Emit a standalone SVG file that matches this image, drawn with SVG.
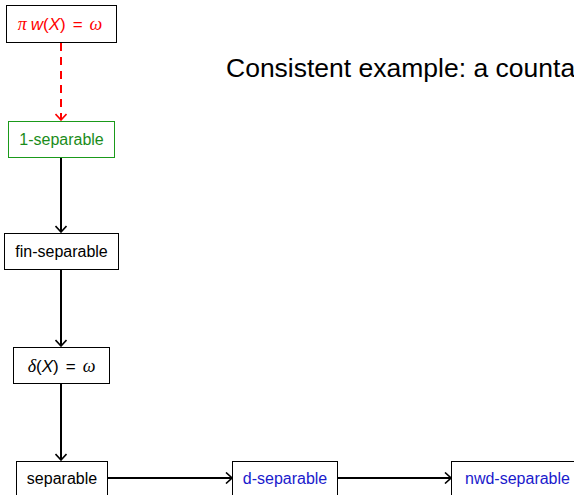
<svg xmlns="http://www.w3.org/2000/svg" width="574" height="495" viewBox="0 0 574 495">
  <style>
    .box { fill: #ffffff; stroke: #000000; stroke-width: 1; }
    .lbl { font-family: "Liberation Sans", Arial, sans-serif; font-size: 16px; text-anchor: middle; dominant-baseline: central; }
    .math { font-family: "Liberation Serif", "DejaVu Serif", serif; font-size: 18px; text-anchor: middle; dominant-baseline: central; }
    .it { font-style: italic; }
    .sans { font-family: "Liberation Sans", Arial, sans-serif; font-size: 17px; }
    .edge { fill: none; stroke: #000000; stroke-width: 2; }
    .dash { fill: none; stroke: #ff0000; stroke-width: 2; stroke-dasharray: 8 6; }
    .title { font-family: "Liberation Sans", Arial, sans-serif; font-size: 26.5px; fill: #000000; }
  </style>
  <defs>
    <marker id="arr" viewBox="0 0 12 12" refX="11" refY="6" markerWidth="12" markerHeight="12" markerUnits="userSpaceOnUse" orient="auto">
      <path d="M5 0.5 L11 6 L5 11.5" fill="none" stroke="#000000" stroke-width="1.6"/>
    </marker>
    <marker id="arrRed" viewBox="0 0 12 12" refX="11" refY="6" markerWidth="12" markerHeight="12" markerUnits="userSpaceOnUse" orient="auto">
      <path d="M5 0.5 L11 6 L5 11.5" fill="none" stroke="#ff0000" stroke-width="1.6"/>
    </marker>
  </defs>

  <rect width="574" height="495" fill="#ffffff"/>

  <text class="title" x="226" y="77">Consistent example: a counta</text>

  <g id="connectors">
    <line class="dash" x1="61" y1="43" x2="61" y2="120" marker-end="url(#arrRed)"/>
    <line class="edge" x1="61" y1="157" x2="61" y2="232" marker-end="url(#arr)"/>
    <line class="edge" x1="61" y1="269" x2="61" y2="346" marker-end="url(#arr)"/>
    <line class="edge" x1="61" y1="383" x2="61" y2="460" marker-end="url(#arr)"/>
    <line class="edge" x1="107" y1="478" x2="232" y2="478" marker-end="url(#arr)"/>
    <line class="edge" x1="337" y1="478" x2="451" y2="478" marker-end="url(#arr)"/>
  </g>

  <g id="node-piw">
    <rect class="box" x="6.5" y="5.5" width="110" height="37"/>
    <text class="math" x="60" y="24" fill="#ff0000"><tspan class="it">π</tspan><tspan class="sans it" dx="4">w</tspan><tspan class="sans">(</tspan><tspan class="sans it">X</tspan><tspan class="sans">)</tspan><tspan class="sans" dx="7">=</tspan><tspan class="it" dx="7">ω</tspan></text>
  </g>

  <g id="node-1sep">
    <rect class="box" x="8.5" y="121.5" width="106" height="36" style="stroke:#1a9a1a"/>
    <text class="lbl" x="61.5" y="139.5" fill="#1a8c1a">1-separable</text>
  </g>

  <g id="node-finsep">
    <rect class="box" x="4.5" y="233.5" width="114" height="36"/>
    <text class="lbl" x="61.5" y="251.5" fill="#000000">fin-separable</text>
  </g>

  <g id="node-delta">
    <rect class="box" x="13.5" y="347.5" width="96" height="36"/>
    <text class="math" x="61.5" y="365.5" fill="#000000"><tspan class="it">δ</tspan><tspan class="sans">(</tspan><tspan class="sans it">X</tspan><tspan class="sans">)</tspan><tspan class="sans" dx="7">=</tspan><tspan class="it" dx="7">ω</tspan></text>
  </g>

  <g id="node-sep">
    <rect class="box" x="16.5" y="461.5" width="91" height="36"/>
    <text class="lbl" x="62" y="478.5" fill="#000000">separable</text>
  </g>

  <g id="node-dsep">
    <rect class="box" x="232.5" y="461.5" width="105" height="36"/>
    <text class="lbl" x="285" y="478.5" fill="#1a1acc">d-separable</text>
  </g>

  <g id="node-nwdsep">
    <rect class="box" x="451.5" y="461.5" width="130" height="36"/>
    <text class="lbl" x="465" y="478.5" fill="#1a1acc" style="text-anchor:start">nwd-separable</text>
  </g>
</svg>
